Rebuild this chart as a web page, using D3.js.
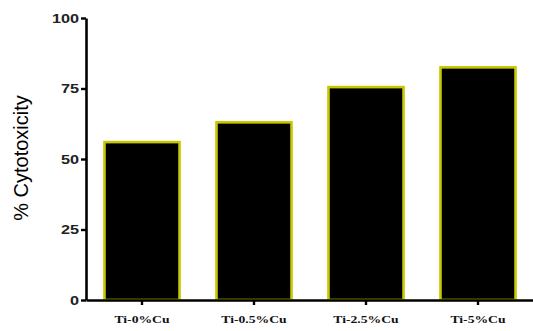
<!DOCTYPE html>
<html>
<head>
<meta charset="utf-8">
<script src="https://cdn.jsdelivr.net/npm/d3@7"></script>
<style>
  html, body { margin: 0; padding: 0; background: #fff; }
  svg { display: block; }
</style>
</head>
<body>
<svg id="chart" width="533" height="331"></svg>
<script>
const categories = ["Ti-0%Cu", "Ti-0.5%Cu", "Ti-2.5%Cu", "Ti-5%Cu"];
const values = [56, 63, 75.5, 82.5];
const yTicks = [0, 25, 50, 75, 100];
const yTitle = "% Cytotoxicity";

const svg = d3.select("#chart");
const x = d3.scaleBand().domain(categories).range([86, 534]).paddingInner(0.33).paddingOuter(0.165);
const y = d3.scaleLinear().domain([0, 100]).range([300, 18]);

// bars
svg.append("g").selectAll("rect").data(categories).join("rect")
  .attr("x", d => x(d))
  .attr("width", x.bandwidth())
  .attr("y", (d, i) => y(values[i]))
  .attr("height", (d, i) => y(0) - y(values[i]))
  .attr("fill", "#000")
  .attr("stroke", "#c8c800")
  .attr("stroke-width", 2.6);

// y axis
const yAxis = svg.append("g").attr("transform", "translate(86,0)")
  .call(d3.axisLeft(y).tickValues(yTicks).tickSize(5).tickSizeOuter(0));
yAxis.select(".domain").attr("stroke", "#000").attr("stroke-width", 2.6);
yAxis.selectAll(".tick line").attr("stroke", "#000").attr("stroke-width", 2.4);
yAxis.selectAll(".tick text")
  .attr("x", 0)
  .attr("transform", "translate(-7,0) scale(1.25,1)")
  .attr("font-family", "Arial, 'Liberation Sans', sans-serif")
  .attr("font-weight", "bold")
  .attr("font-size", 13)
  .attr("fill", "#222");

// x axis
const xAxis = svg.append("g").attr("transform", "translate(0,300)")
  .call(d3.axisBottom(x).tickSize(5).tickSizeOuter(0));
xAxis.select(".domain").attr("stroke", "#000").attr("stroke-width", 2.6);
xAxis.selectAll(".tick line").attr("stroke", "#000").attr("stroke-width", 2.4);
xAxis.selectAll(".tick text")
  .attr("y", 0).attr("dy", 0)
  .attr("transform", "translate(0,23) scale(1.3,1)")
  .attr("font-family", "'Times New Roman', 'Liberation Serif', serif")
  .attr("font-weight", "bold")
  .attr("font-size", 10.5)
  .attr("fill", "#111");

// y title
svg.append("text")
  .attr("transform", "translate(28,158) rotate(-90)")
  .attr("text-anchor", "middle")
  .attr("font-family", "Arial, 'Liberation Sans', sans-serif")
  .attr("font-size", 20)
  .attr("fill", "#000")
  .text(yTitle);
</script>
</body>
</html>
